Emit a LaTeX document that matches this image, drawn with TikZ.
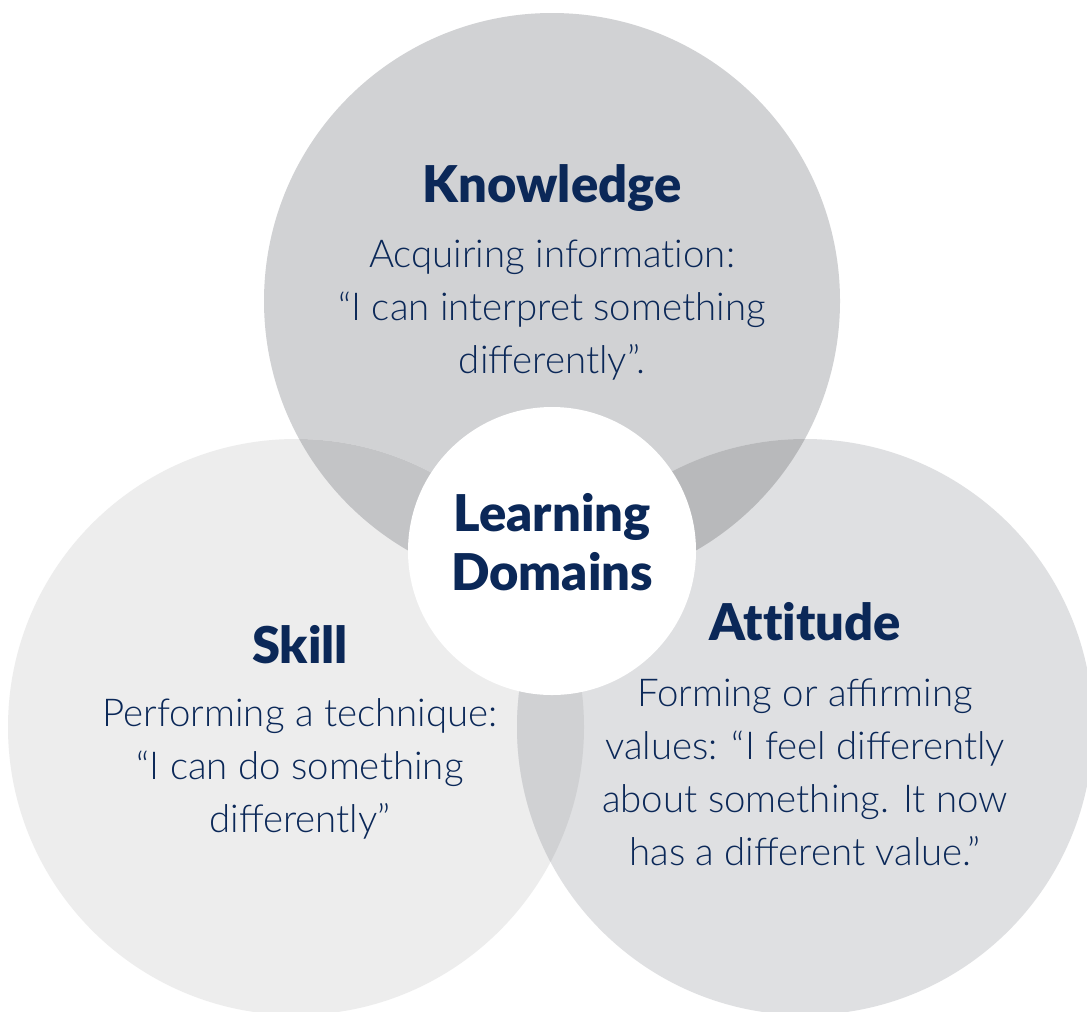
\documentclass[tikz,border=0pt]{standalone}
\usepackage{fontspec}
\setmainfont{Lato}
\newfontfamily\lightfont{Lato Light}
\newfontfamily\heavyfont[Ligatures=NoCommon]{Lato Black}
\usetikzlibrary{positioning}
\definecolor{navy}{HTML}{0B2858}
\definecolor{knowcol}{HTML}{D1D2D4}
\definecolor{skillcol}{HTML}{EDEDED}
\definecolor{attcol}{HTML}{DFE0E2}
\definecolor{kscol}{HTML}{C3C4C6}
\definecolor{kacol}{HTML}{B8B9BB}
\definecolor{sacol}{HTML}{D0D1D3}

\begin{document}
\begin{tikzpicture}[x=0.75pt, y=-0.75pt,
  title/.style={text=navy, inner sep=0pt, align=center, font=\heavyfont\fontsize{38}{44.25}\selectfont},
  body/.style={text=navy, inner sep=0pt, align=center, font=\lightfont\fontsize{28.8}{39.75}\selectfont}]
\useasboundingbox (0,0) rectangle (1087,1011);
\fill [white] (0,0) rectangle (1087,1011);
\coordinate (K) at (552,301);
\coordinate (S) at (296,727);
\coordinate (A) at (805,727);
\fill [knowcol] (K) circle [radius=288];
\fill [skillcol] (S) circle [radius=288];
\fill [attcol] (A) circle [radius=288];
\begin{scope}
\clip (K) circle [radius=288];
\fill [kscol] (S) circle [radius=288];
\fill [kacol] (A) circle [radius=288];
\end{scope}
\begin{scope}
\clip (S) circle [radius=288];
\fill [sacol] (A) circle [radius=288];
\end{scope}
\fill [white] (552,551) circle [radius=144];
\node [title] (ktitle) at (552,188) {Knowledge};
\node [body] (ktext) at (552,310) {Acquiring informat\kern0pt ion:\\“I can interpret something\\differently”.};
\node [title] (stitle) at (300,645) {Skill};
\node [body] (stext) at (300,769) {Performing a technique:\\“I can do something\\differently”};
\node [title] (atitle) at (805,622) {Attitude};
\node [body] (atext) at (805,772) {Forming or affirming\\values: “I feel differently\\about something. It now\\has a different value.”};
\node [title] (center) at (552,542) {Learning\\Domains};
\end{tikzpicture}
\end{document}
